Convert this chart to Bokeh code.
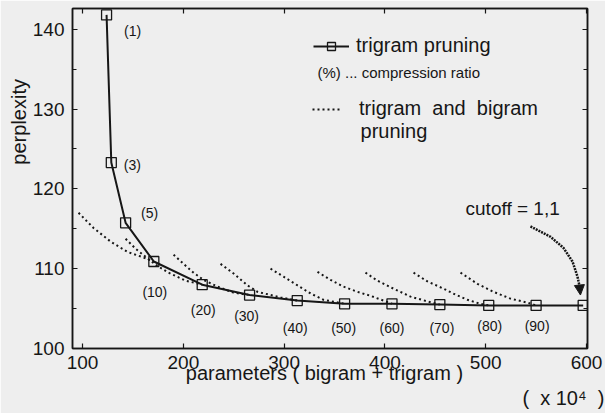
import math
from bokeh.plotting import figure
from bokeh.models import (LinearAxis, Range1d, Label, LabelSet, Legend, LegendItem,
                          Arrow, NormalHead, FixedTicker, ColumnDataSource)
from bokeh.embed import file_html
from bokeh.resources import INLINE
from bokeh.core.properties import value

# ---------------- data ----------------
# trigram pruning (x: parameters x10^4, y: perplexity)
tri_params = [123.8, 128.5, 142.7, 170.7, 218.7, 265.7, 313.0, 360.0, 407.0, 454.5, 503.0, 550.0, 596.7]
tri_ppl = [141.8, 123.3, 115.75, 110.9, 108.0, 106.7, 106.0, 105.6, 105.6, 105.5, 105.4, 105.4, 105.4]
ratio_text = ["(1)", "(3)", "(5)", "(10)", "(20)", "(30)", "(40)", "(50)", "(60)", "(70)", "(80)", "(90)", ""]

# trigram and bigram pruning curves (one per trigram cutoff)
tb10_x = [96.0, 110.9, 127.8, 144.6, 160.5, 170.7]
tb10_y = [117.0, 115.1, 113.4, 112.1, 111.4, 110.9]
tb20_x = [142.7, 152.6, 162.5, 172.4, 185.3, 202.2, 218.7]
tb20_y = [113.75, 112.5, 111.5, 110.5, 109.5, 108.5, 108.0]
tb30_x = [190.3, 200.2, 210.1, 220.0, 233.9, 249.8, 265.7]
tb30_y = [111.75, 110.6, 109.5, 108.6, 107.75, 107.0, 106.7]
tb40_x = [236.9, 249.8, 263.7, 273.6, 296.4, 313.0]
tb40_y = [110.6, 109.4, 107.9, 107.1, 106.4, 106.0]
tb50_x = [286.5, 299.4, 313.3, 326.2, 339.1, 360.0]
tb50_y = [110.0, 109.0, 107.9, 106.9, 106.1, 105.6]
tb60_x = [333.1, 346.0, 358.9, 372.8, 385.7, 398.6, 407.0]
tb60_y = [109.6, 108.6, 107.75, 107.1, 106.6, 106.0, 105.6]
tb70_x = [380.7, 392.6, 408.5, 425.4, 442.2, 454.5]
tb70_y = [109.5, 108.5, 107.5, 106.5, 105.9, 105.5]
tb80_x = [428.4, 442.2, 458.1, 470.0, 481.9, 494.8, 503.0]
tb80_y = [109.5, 108.4, 107.5, 106.75, 106.1, 105.6, 105.4]
tb90_x = [475.0, 491.8, 507.7, 524.6, 541.4, 550.0]
tb90_y = [109.5, 108.1, 107.1, 106.25, 105.75, 105.4]

x_ticks = [100, 200, 300, 400, 500, 600]
y_ticks = [100, 110, 120, 130, 140]
y_minor = [105, 115, 125, 135]

# ---------------- layout / style ----------------
INK = "#161616"
BG = "#eeeeee"
FONT = "Liberation Sans"
# pixel offsets of ratio labels relative to their square (right, down)
label_dx = [26, 21, 24, 1, 1, -3, -2, -1, 0, 2, 1, 1, 0]
label_dy = [16, 2, -10, 30, 25, 21, 27, 24, 24, 23, 21, 21, 0]

p = figure(width=605, height=413, x_range=Range1d(90, 601), y_range=Range1d(100, 142.6),
           output_backend="svg", toolbar_location=None,
           min_border_left=72, min_border_right=18, min_border_top=8, min_border_bottom=65,
           background_fill_color=BG, border_fill_color=BG,
           outline_line_color=INK, outline_line_width=1.5)
p.grid.visible = False

def style_axis(ax, labels=True):
    ax.axis_line_color = INK
    ax.axis_line_width = 1.5
    ax.major_tick_line_color = INK
    ax.minor_tick_line_color = INK
    ax.major_tick_line_width = 1.2
    ax.minor_tick_line_width = 1.2
    ax.major_tick_in = 5
    ax.major_tick_out = 0
    ax.minor_tick_in = 4
    ax.minor_tick_out = 0
    if labels:
        ax.major_label_text_font = FONT
        ax.major_label_text_font_size = "19px"
        ax.major_label_text_color = INK
    else:
        ax.major_label_text_font_size = "1px"
        ax.major_label_text_color = None
        ax.major_label_standoff = 0

p.xaxis.ticker = FixedTicker(ticks=x_ticks, minor_ticks=[])
p.yaxis.ticker = FixedTicker(ticks=y_ticks, minor_ticks=y_minor)
style_axis(p.xaxis[0])
style_axis(p.yaxis[0])
p.xaxis.major_label_standoff = 7
p.yaxis.major_label_standoff = 8

p.xaxis.axis_label = "parameters ( bigram + trigram )\u00a0\u00a0"
p.xaxis.axis_label_standoff = -10
p.xaxis.axis_label_text_font = FONT
p.xaxis.axis_label_text_font_size = "20px"
p.xaxis.axis_label_text_font_style = "normal"
p.xaxis.axis_label_text_color = INK

top = LinearAxis(ticker=FixedTicker(ticks=x_ticks, minor_ticks=[]))
style_axis(top, labels=False)
p.add_layout(top, "above")
right = LinearAxis(ticker=FixedTicker(ticks=y_ticks, minor_ticks=y_minor))
style_axis(right, labels=False)
p.add_layout(right, "right")

# dotted curves
curves = [(tb10_x, tb10_y), (tb20_x, tb20_y), (tb30_x, tb30_y), (tb40_x, tb40_y), (tb50_x, tb50_y),
          (tb60_x, tb60_y), (tb70_x, tb70_y), (tb80_x, tb80_y), (tb90_x, tb90_y)]
dot_renderers = []
for cx, cy in curves:
    r = p.line(cx, cy, line_color=INK, line_width=2, line_dash="2 3")
    dot_renderers.append(r)

# trigram pruning
line_r = p.line(tri_params, tri_ppl, line_color=INK, line_width=2)
sq_r = p.scatter(tri_params, tri_ppl, marker="square", size=10, fill_color=None,
                 line_color=INK, line_width=1.3)

src = ColumnDataSource(dict(x=tri_params, y=tri_ppl, text=ratio_text,
                            xo=label_dx, yo=[-d for d in label_dy]))
p.add_layout(LabelSet(x="x", y="y", text="text", source=src, x_offset="xo", y_offset="yo",
                      text_align="center", text_baseline="middle",
                      text_font=value(FONT), text_font_size="14px", text_color=INK))

# legends
leg1 = Legend(items=[LegendItem(label="trigram pruning", renderers=[line_r, sq_r])],
              location=(241, 291), padding=0, margin=0, spacing=0,
              glyph_width=36, glyph_height=20, label_standoff=7,
              label_text_font=FONT, label_text_font_size="20px", label_text_color=INK,
              border_line_alpha=0, background_fill_alpha=0)
leg2 = Legend(items=[LegendItem(label="trigram\u00a0 and\u00a0 bigram", renderers=[dot_renderers[0]])],
              location=(240, 228), padding=0, margin=0, spacing=0,
              glyph_width=30, glyph_height=20, label_standoff=17,
              label_text_font=FONT, label_text_font_size="20px", label_text_color=INK,
              border_line_alpha=0, background_fill_alpha=0)
p.add_layout(leg1, "center")
p.add_layout(leg2, "center")

def lab(x, y, text, size, align="left", angle=0, side="center"):
    p.add_layout(Label(x=x, y=y, text=text, text_font=FONT, text_font_size=size,
                       text_color=INK, text_align=align, text_baseline="middle", angle=angle), side)

lab(333.1, 134.6, "(%) ... compression ratio", "15px")
lab(375.8, 127.2, "pruning", "20px")
lab(480.0, 117.5, "cutoff = 1,1", "19px")

# unit note and y title (placed in the side panels so they are not clipped to the frame)
lab(536.4, 93.8, "(\u00a0 x 10\u2074\u00a0 )", "20px", side="below")
lab(36.5, 128.4, "perplexity", "20px", align="center", angle=math.pi / 2, side="left")

# cutoff arrow
p.line([544.4, 564.3, 577.2, 586.1, 591.1, 593.1], [115.3, 114.0, 112.6, 110.9, 109.0, 107.8],
       line_color=INK, line_width=2.5, line_dash="2 1")
p.add_layout(Arrow(end=NormalHead(size=10, fill_color=INK, line_color=INK),
                   x_start=593.1, y_start=107.8, x_end=594.0, y_end=106.7,
                   line_color=INK, line_width=2.5))

open("out.html", "w").write(file_html(p, INLINE))
